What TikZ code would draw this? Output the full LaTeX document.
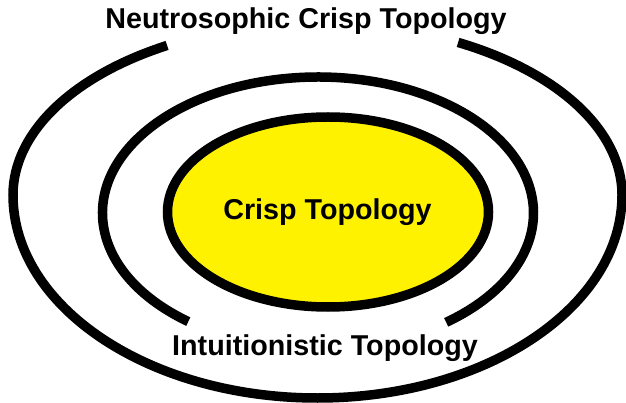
\documentclass[tikz,border=0pt]{standalone}
\usepackage{fontspec}
\setmainfont{Liberation Sans}
\definecolor{crispyellow}{RGB}{255,242,0}
\tikzset{
  ring/.style={draw=black, line width=9.5pt},
  lbl/.style={font=\fontsize{28.7}{34}\selectfont\bfseries, text=black, inner sep=0pt, anchor=base}
}
\begin{document}
\begin{tikzpicture}[x=1pt,y=-1pt]
\useasboundingbox[fill=white] (0,0) rectangle (626,403);
% outer (open at top)
\draw[ring] (317.5,195) ++(297.5:304.5 and 172)
  arc[start angle=297.5,end angle=360,x radius=304.5,y radius=172]
  arc[start angle=0,end angle=180,x radius=304.5,y radius=203]
  arc[start angle=180,end angle=240.4,x radius=304.5,y radius=172];
% middle (open at bottom)
\draw[ring] (318,213) ++(127:215.5 and 136)
  arc[start angle=127,end angle=413.5,x radius=215.5,y radius=136];
% inner
\draw[ring, fill=crispyellow] (328,212) ellipse[x radius=160.5,y radius=95];
\node[lbl] (nct) at (306,29) {Neutrosophic Crisp Topology};
\node[lbl] (ct) at (327.5,220) {Crisp Topology};
\node[lbl] (it) at (325,355) {Intuitionistic Topology};
\end{tikzpicture}
\end{document}
